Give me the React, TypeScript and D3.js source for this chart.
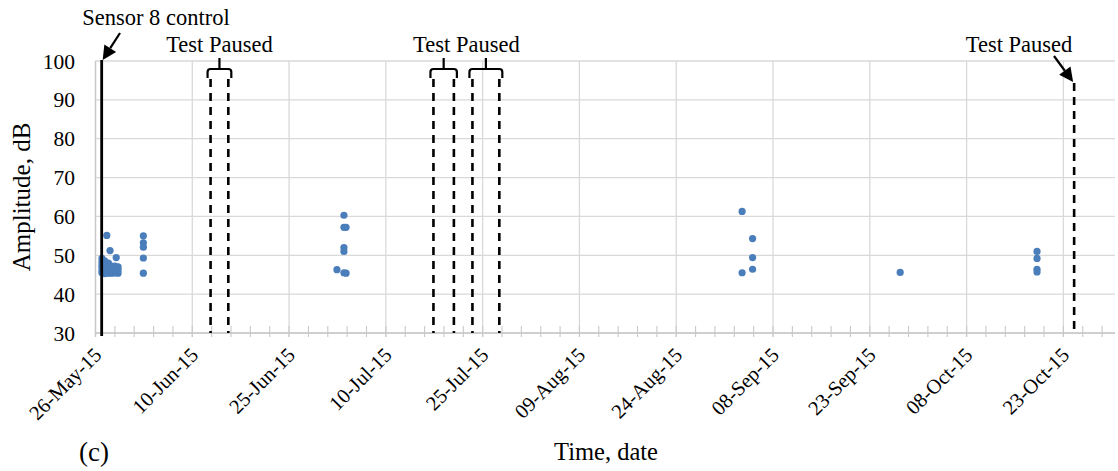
import React from "react";
import * as d3 from "d3";

// ---- data ----
const eventTimes: string[] = [
  "2015-05-27 00:00", "2015-05-27 00:00", "2015-05-27 00:00", "2015-05-27 00:00", "2015-05-27 00:00", "2015-05-27 00:00",
  "2015-05-27 10:00", "2015-05-27 10:00", "2015-05-27 10:00", "2015-05-27 10:00", "2015-05-27 10:00",
  "2015-05-27 18:00", "2015-05-27 18:00", "2015-05-27 18:00", "2015-05-27 18:00",
  "2015-05-28 00:00", "2015-05-28 00:00", "2015-05-28 00:00", "2015-05-28 00:00",
  "2015-05-28 06:00", "2015-05-28 06:00", "2015-05-28 06:00", "2015-05-28 06:00",
  "2015-05-28 14:00", "2015-05-28 14:00", "2015-05-28 14:00",
  "2015-05-29 00:00", "2015-05-29 00:00", "2015-05-29 00:00",
  "2015-05-29 05:00", "2015-05-29 05:00", "2015-05-29 05:00",
  "2015-05-29 12:00", "2015-05-29 12:00", "2015-05-29 12:00",
  "2015-06-02 10:00", "2015-06-02 10:00", "2015-06-02 10:00", "2015-06-02 10:00", "2015-06-02 10:00",
  "2015-07-02 10:00",
  "2015-07-03 12:00", "2015-07-03 12:00", "2015-07-03 12:00", "2015-07-03 12:00", "2015-07-03 12:00",
  "2015-07-03 20:00", "2015-07-03 20:00",
  "2015-09-03 05:00", "2015-09-03 05:00",
  "2015-09-04 20:00", "2015-09-04 20:00", "2015-09-04 20:00",
  "2015-09-27 17:00",
  "2015-10-18 22:00", "2015-10-18 22:00", "2015-10-18 22:00", "2015-10-18 22:00",
];
const amplitudes: number[] = [
  45.5, 46.0, 46.8, 47.5, 48.3, 49.2,
  45.3, 46.2, 47.0, 47.8, 48.6,
  55.1, 45.5, 46.5, 47.3,
  45.4, 46.3, 47.1, 48.0,
  51.2, 45.5, 46.4, 47.4,
  45.4, 46.2, 47.0,
  45.5, 46.3, 47.2,
  49.4, 45.5, 46.5,
  45.4, 46.2, 47.0,
  55.0, 53.2, 52.1, 49.3, 45.4,
  46.3,
  60.3, 57.2, 52.0, 51.0, 45.5,
  57.2, 45.4,
  61.3, 45.5,
  54.3, 49.4, 46.4,
  45.6,
  51.0, 49.2, 46.4, 45.7,
];
const controlTime = "2015-05-26 23:00";
const pauseGroup1: string[] = ["2015-06-12 20:00", "2015-06-15 14:00"];
const pauseGroup2a: string[] = ["2015-07-17 09:00", "2015-07-20 13:00"];
const pauseGroup2b: string[] = ["2015-07-23 10:00", "2015-07-27 14:00"];
const pauseLast = "2015-10-24 16:00";
const xDomain: string[] = ["2015-05-26 00:00", "2015-10-31 00:00"];
const yTicks: number[] = [30, 40, 50, 60, 70, 80, 90, 100];

const parse = d3.timeParse("%Y-%m-%d %H:%M");
const fmt = d3.timeFormat("%d-%b-%y");
const FONT = "'Liberation Serif', 'Times New Roman', serif";

export default function App() {
  const W = 1118, H = 471;
  const left = 95.5, right = 1115, top = 61, bottom = 333;
  const x = d3.scaleTime().domain(xDomain.map((s) => parse(s)!)).range([left, right]);
  const y = d3.scaleLinear().domain([30, 100]).range([bottom, top]);
  const d0 = parse(xDomain[0])!;
  const d1 = parse(xDomain[1])!;
  const major: Date[] = [];
  const minor: Date[] = [];
  for (let t = d0; t <= d1; t = d3.timeDay.offset(t, 3)) {
    const n = Math.round((+t - +d0) / 864e5);
    if (n % 15 === 0) major.push(t);
    minor.push(t);
  }
  const pts = eventTimes.map((s, i) => ({ t: parse(s)!, v: amplitudes[i] }));
  const dash = "8,6";

  const bracket = (pair: string[], key: string) => {
    const xa = x(parse(pair[0])!);
    const xb = x(parse(pair[1])!);
    const xm = (xa + xb) / 2;
    const by = 69;
    return (
      <g key={key} fill="none" stroke="#000" strokeWidth={2.2}>
        <path d={`M${xa - 3},${by + 9} L${xa - 3},${by + 3} Q${xa - 3},${by} ${xa},${by} L${xb},${by} Q${xb + 3},${by} ${xb + 3},${by + 3} L${xb + 3},${by + 9}`} />
        <line x1={xm} x2={xm} y1={by} y2={by - 11} />
        {pair.map((s, i) => (
          <line key={i} x1={x(parse(s)!)} x2={x(parse(s)!)} y1={by + 10} y2={bottom} strokeWidth={2.6} strokeDasharray={dash} />
        ))}
      </g>
    );
  };

  const arrow = (x1: number, y1: number, x2: number, y2: number, key: string) => {
    const ang = Math.atan2(y2 - y1, x2 - x1);
    const L = 14, Wd = 7;
    const bx = x2 - L * Math.cos(ang), by = y2 - L * Math.sin(ang);
    const px = -Math.sin(ang) * Wd, py = Math.cos(ang) * Wd;
    return (
      <g key={key}>
        <line x1={x1} y1={y1} x2={bx} y2={by} stroke="#000" strokeWidth={2.2} />
        <path d={`M${x2},${y2} L${bx + px},${by + py} L${bx - px},${by - py} Z`} fill="#000" />
      </g>
    );
  };

  const xc = x(parse(controlTime)!);
  const xl = x(parse(pauseLast)!);
  const m1 = (x(parse(pauseGroup1[0])!) + x(parse(pauseGroup1[1])!)) / 2;
  const m2 = (x(parse(pauseGroup2a[0])!) + x(parse(pauseGroup2b[1])!)) / 2;

  return (
    <svg width={W} height={H} style={{ position: "absolute", left: 0, top: 0, background: "#fff" }} fontFamily={FONT}>
      <rect width={W} height={H} fill="#fff" />
      {yTicks.map((t) => (
        <line key={t} x1={left} x2={right} y1={y(t)} y2={y(t)} stroke="#d9d9d9" strokeWidth={1.3} />
      ))}
      {major.map((t, i) => (
        <line key={i} x1={x(t)} x2={x(t)} y1={top} y2={bottom + 4} stroke="#d9d9d9" strokeWidth={1.3} />
      ))}
      {minor.map((t, i) => (
        <line key={i} x1={x(t)} x2={x(t)} y1={bottom - 7} y2={bottom + 4} stroke="#c8c8c8" strokeWidth={1.1} />
      ))}
      <line x1={left} x2={left} y1={top} y2={bottom + 4} stroke="#c8c8c8" strokeWidth={1.3} />
      <line x1={left} x2={right} y1={bottom} y2={bottom} stroke="#c8c8c8" strokeWidth={1.3} />
      {yTicks.map((t) => (
        <text key={t} x={75} y={y(t)} dy="0.35em" textAnchor="end" fontSize={21.5} fill="#000">{t}</text>
      ))}
      {major.map((t, i) => (
        <text key={i} transform={`translate(${x(t) - 3},${bottom + 13}) rotate(-45)`} textAnchor="end" dy="0.7em" fontSize={20.5} fill="#000">{fmt(t)}</text>
      ))}
      {pts.map((p, i) => (
        <circle key={i} cx={x(p.t)} cy={y(p.v)} r={3.6} fill="#4a7ebb" />
      ))}
      <line x1={xc} x2={xc} y1={top - 1} y2={bottom + 3} stroke="#000" strokeWidth={2.8} />
      {arrow(120, 33, xc + 1, top - 1, "a1")}
      <text x={156} y={25} textAnchor="middle" fontSize={22.5} fill="#000">Sensor 8 control</text>
      {bracket(pauseGroup1, "b1")}
      <text x={m1} y={52} textAnchor="middle" fontSize={22.5} fill="#000">Test Paused</text>
      {bracket(pauseGroup2a, "b2")}
      {bracket(pauseGroup2b, "b3")}
      <text x={m2} y={52} textAnchor="middle" fontSize={22.5} fill="#000">Test Paused</text>
      <line x1={xl} x2={xl} y1={83} y2={bottom} stroke="#000" strokeWidth={2.6} strokeDasharray={dash} />
      {arrow(1054, 56, xl - 1, 82, "a2")}
      <text x={1019} y={52} textAnchor="middle" fontSize={22.5} fill="#000">Test Paused</text>
      <text transform={`translate(30,${(top + bottom) / 2}) rotate(-90)`} textAnchor="middle" fontSize={25} fill="#000">Amplitude, dB</text>
      <text x={606} y={460} textAnchor="middle" fontSize={24.5} fill="#000">Time, date</text>
      <text x={94} y={461} textAnchor="middle" fontSize={27} fill="#000">(c)</text>
    </svg>
  );
}
